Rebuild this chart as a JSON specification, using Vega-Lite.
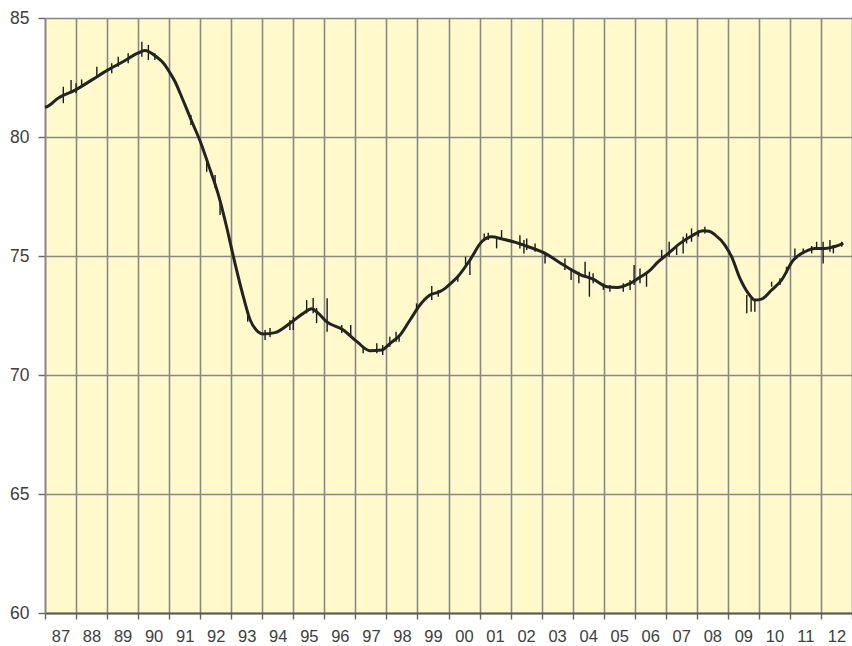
{
  "$schema": "https://vega.github.io/schema/vega-lite/v6.json",
  "width": 807,
  "height": 595,
  "autosize": "none",
  "padding": {"left": 45, "top": 18, "right": 0, "bottom": 33},
  "background": "#ffffff",
  "config": {
    "view": {"fill": "#fff9cc", "stroke": null},
    "axis": {"labelFont": "Liberation Sans", "labelColor": "#404040", "gridColor": "#888888", "gridWidth": 1.6, "tickColor": "#666666", "tickWidth": 1.4, "title": null},
    "axisX": {
      "labelExpr": "datum.value < 2013 ? substring(toString(datum.value), 2) : ''",
      "labelOffset": 15.5,
      "labelFontSize": 16.5,
      "labelPadding": 9,
      "tickSize": 6,
      "grid": true,
      "domainColor": "#5a5a5a",
      "domainWidth": 2,
      "labelFlush": false,
      "labelOverlap": false,
      "labelBound": false
    },
    "axisY": {
      "labelFontSize": 17.5,
      "labelPadding": 9,
      "tickSize": 7,
      "grid": true,
      "domainColor": "#888888",
      "domainWidth": 1.6
    }
  },
  "datasets": {
    "trend": [
      {"year": 1987.00, "v": 81.25}, {"year": 1987.06, "v": 81.27}, {"year": 1987.42, "v": 81.63},
      {"year": 1987.97, "v": 81.97}, {"year": 1988.50, "v": 82.39}, {"year": 1989.03, "v": 82.82},
      {"year": 1989.51, "v": 83.16}, {"year": 1989.99, "v": 83.52}, {"year": 1990.21, "v": 83.63},
      {"year": 1990.59, "v": 83.37}, {"year": 1990.82, "v": 83.10}, {"year": 1991.00, "v": 82.75},
      {"year": 1991.20, "v": 82.30}, {"year": 1991.35, "v": 81.85}, {"year": 1991.51, "v": 81.35},
      {"year": 1991.73, "v": 80.65}, {"year": 1992.03, "v": 79.72}, {"year": 1992.26, "v": 78.85},
      {"year": 1992.58, "v": 77.60}, {"year": 1992.85, "v": 76.23}, {"year": 1993.07, "v": 74.97},
      {"year": 1993.39, "v": 73.29}, {"year": 1993.61, "v": 72.31}, {"year": 1993.80, "v": 71.90},
      {"year": 1994.03, "v": 71.72}, {"year": 1994.41, "v": 71.78}, {"year": 1994.89, "v": 72.17},
      {"year": 1995.32, "v": 72.59}, {"year": 1995.59, "v": 72.78}, {"year": 1995.80, "v": 72.60},
      {"year": 1996.07, "v": 72.24}, {"year": 1996.61, "v": 71.89}, {"year": 1997.05, "v": 71.40},
      {"year": 1997.47, "v": 71.02}, {"year": 1997.85, "v": 71.05}, {"year": 1998.12, "v": 71.33},
      {"year": 1998.44, "v": 71.68}, {"year": 1998.76, "v": 72.31}, {"year": 1999.08, "v": 72.94},
      {"year": 1999.40, "v": 73.36}, {"year": 1999.72, "v": 73.50}, {"year": 1999.89, "v": 73.64},
      {"year": 2000.05, "v": 73.82}, {"year": 2000.31, "v": 74.15}, {"year": 2000.69, "v": 74.83},
      {"year": 2001.07, "v": 75.60}, {"year": 2001.39, "v": 75.81}, {"year": 2001.71, "v": 75.72},
      {"year": 2002.09, "v": 75.60}, {"year": 2002.57, "v": 75.39}, {"year": 2003.11, "v": 75.11},
      {"year": 2003.54, "v": 74.76}, {"year": 2003.97, "v": 74.41}, {"year": 2004.24, "v": 74.22},
      {"year": 2004.66, "v": 74.03}, {"year": 2005.10, "v": 73.71}, {"year": 2005.42, "v": 73.68},
      {"year": 2005.85, "v": 73.85}, {"year": 2006.11, "v": 74.06}, {"year": 2006.44, "v": 74.34},
      {"year": 2006.76, "v": 74.76}, {"year": 2007.08, "v": 75.11}, {"year": 2007.46, "v": 75.53},
      {"year": 2007.83, "v": 75.84}, {"year": 2008.21, "v": 76.06}, {"year": 2008.40, "v": 76.04},
      {"year": 2008.58, "v": 75.90}, {"year": 2008.91, "v": 75.45}, {"year": 2009.12, "v": 74.97},
      {"year": 2009.39, "v": 74.06}, {"year": 2009.66, "v": 73.43}, {"year": 2009.87, "v": 73.15},
      {"year": 2010.09, "v": 73.19}, {"year": 2010.41, "v": 73.57}, {"year": 2010.73, "v": 73.99},
      {"year": 2011.11, "v": 74.83}, {"year": 2011.48, "v": 75.18}, {"year": 2011.81, "v": 75.32},
      {"year": 2012.13, "v": 75.32}, {"year": 2012.45, "v": 75.40}, {"year": 2012.72, "v": 75.53}
    ],
    "spikes": [
      {"year": 1987.59, "hi": 82.11, "lo": 81.42}, {"year": 1987.84, "hi": 82.39, "lo": 81.84},
      {"year": 1988.00, "hi": 82.26, "lo": 81.84}, {"year": 1988.18, "hi": 82.42, "lo": 82.18},
      {"year": 1988.67, "hi": 82.95, "lo": 82.53}, {"year": 1989.15, "hi": 83.10, "lo": 82.68},
      {"year": 1989.36, "hi": 83.37, "lo": 82.95}, {"year": 1989.68, "hi": 83.52, "lo": 83.10},
      {"year": 1990.12, "hi": 84.00, "lo": 83.37}, {"year": 1990.33, "hi": 83.87, "lo": 83.24},
      {"year": 1990.54, "hi": 83.52, "lo": 83.24}, {"year": 1991.70, "hi": 80.92, "lo": 80.50},
      {"year": 1992.21, "hi": 78.91, "lo": 78.54}, {"year": 1992.48, "hi": 78.40, "lo": 77.86},
      {"year": 1992.64, "hi": 77.35, "lo": 76.72}, {"year": 1993.53, "hi": 72.61, "lo": 72.24},
      {"year": 1994.09, "hi": 71.89, "lo": 71.47}, {"year": 1994.25, "hi": 71.97, "lo": 71.60},
      {"year": 1994.89, "hi": 72.31, "lo": 71.89}, {"year": 1995.00, "hi": 72.45, "lo": 71.89},
      {"year": 1995.43, "hi": 73.15, "lo": 72.59}, {"year": 1995.64, "hi": 73.24, "lo": 72.59},
      {"year": 1995.75, "hi": 72.82, "lo": 72.18}, {"year": 1996.09, "hi": 73.22, "lo": 71.82},
      {"year": 1996.56, "hi": 72.10, "lo": 71.76}, {"year": 1996.85, "hi": 72.10, "lo": 71.61},
      {"year": 1997.25, "hi": 71.19, "lo": 70.91}, {"year": 1997.69, "hi": 71.33, "lo": 70.91},
      {"year": 1997.88, "hi": 71.26, "lo": 70.84}, {"year": 1998.11, "hi": 71.61, "lo": 71.19},
      {"year": 1998.31, "hi": 71.82, "lo": 71.40}, {"year": 1998.41, "hi": 71.68, "lo": 71.40},
      {"year": 1998.97, "hi": 73.01, "lo": 72.73}, {"year": 1999.46, "hi": 73.74, "lo": 73.15},
      {"year": 1999.67, "hi": 73.57, "lo": 73.29}, {"year": 2000.30, "hi": 74.20, "lo": 73.92},
      {"year": 2000.55, "hi": 74.97, "lo": 74.55}, {"year": 2000.69, "hi": 74.83, "lo": 74.20},
      {"year": 2001.15, "hi": 75.95, "lo": 75.67}, {"year": 2001.28, "hi": 75.98, "lo": 75.67},
      {"year": 2001.55, "hi": 75.74, "lo": 75.32}, {"year": 2001.71, "hi": 76.09, "lo": 75.67},
      {"year": 2002.30, "hi": 75.87, "lo": 75.32}, {"year": 2002.43, "hi": 75.67, "lo": 75.11},
      {"year": 2002.52, "hi": 75.74, "lo": 75.25}, {"year": 2002.79, "hi": 75.53, "lo": 75.18},
      {"year": 2003.11, "hi": 75.18, "lo": 74.69}, {"year": 2003.75, "hi": 74.90, "lo": 74.41},
      {"year": 2003.95, "hi": 74.48, "lo": 73.99}, {"year": 2004.20, "hi": 74.34, "lo": 73.85},
      {"year": 2004.40, "hi": 74.76, "lo": 74.20}, {"year": 2004.54, "hi": 74.34, "lo": 73.29},
      {"year": 2004.66, "hi": 74.27, "lo": 73.85}, {"year": 2004.99, "hi": 73.85, "lo": 73.57},
      {"year": 2005.20, "hi": 73.78, "lo": 73.50}, {"year": 2005.63, "hi": 73.85, "lo": 73.50},
      {"year": 2005.85, "hi": 73.99, "lo": 73.57}, {"year": 2005.98, "hi": 74.62, "lo": 73.78},
      {"year": 2006.17, "hi": 74.48, "lo": 73.85}, {"year": 2006.38, "hi": 74.27, "lo": 73.71},
      {"year": 2006.87, "hi": 75.25, "lo": 74.83}, {"year": 2007.11, "hi": 75.60, "lo": 74.97},
      {"year": 2007.35, "hi": 75.46, "lo": 75.04}, {"year": 2007.56, "hi": 75.81, "lo": 75.11},
      {"year": 2007.67, "hi": 75.95, "lo": 75.53}, {"year": 2007.83, "hi": 76.16, "lo": 75.60},
      {"year": 2008.05, "hi": 76.09, "lo": 75.81}, {"year": 2008.26, "hi": 76.23, "lo": 75.95},
      {"year": 2009.61, "hi": 73.36, "lo": 72.59}, {"year": 2009.75, "hi": 73.22, "lo": 72.66},
      {"year": 2009.87, "hi": 73.15, "lo": 72.66}, {"year": 2010.41, "hi": 73.92, "lo": 73.71},
      {"year": 2010.68, "hi": 74.06, "lo": 73.78}, {"year": 2010.89, "hi": 74.55, "lo": 74.27},
      {"year": 2011.16, "hi": 75.32, "lo": 74.90}, {"year": 2011.43, "hi": 75.32, "lo": 75.11},
      {"year": 2011.70, "hi": 75.42, "lo": 75.11}, {"year": 2011.86, "hi": 75.60, "lo": 75.25},
      {"year": 2012.07, "hi": 75.60, "lo": 74.69}, {"year": 2012.29, "hi": 75.67, "lo": 75.18},
      {"year": 2012.40, "hi": 75.46, "lo": 75.11}, {"year": 2012.67, "hi": 75.60, "lo": 75.39}
    ]
  },
  "layer": [
    {
      "data": {"name": "spikes"},
      "mark": {"type": "rule", "color": "#1a1a1a", "strokeWidth": 1.4},
      "encoding": {
        "x": {
          "field": "year", "type": "quantitative",
          "scale": {"domain": [1987, 2013], "nice": false, "zero": false},
          "axis": {"tickCount": 26}
        },
        "y": {
          "field": "hi", "type": "quantitative",
          "scale": {"domain": [60, 85], "nice": false, "zero": false},
          "axis": {"values": [60, 65, 70, 75, 80, 85]}
        },
        "y2": {"field": "lo"}
      }
    },
    {
      "data": {"name": "trend"},
      "mark": {"type": "line", "color": "#232323", "strokeWidth": 3, "interpolate": "monotone"},
      "encoding": {
        "x": {"field": "year", "type": "quantitative", "axis": {"tickCount": 26}},
        "y": {"field": "v", "type": "quantitative", "axis": {"values": [60, 65, 70, 75, 80, 85]}}
      }
    }
  ]
}
